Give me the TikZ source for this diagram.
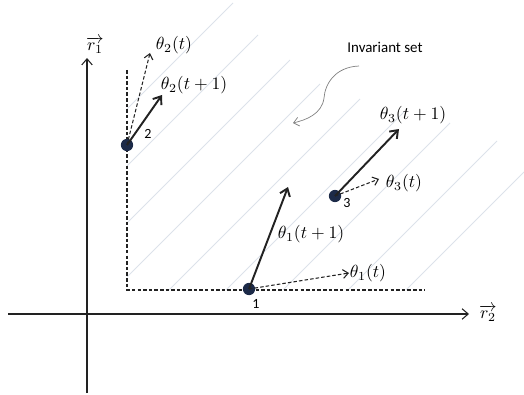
\documentclass[tikz,border=0pt]{standalone}
\usepackage{amsmath,amssymb}
\usepackage{fontspec}
\newfontfamily\labelfont{Carlito}
\usetikzlibrary{arrows.meta}
\definecolor{dotblue}{HTML}{1C2A48}
\definecolor{hatchgray}{HTML}{DCE2EA}
\definecolor{inkgray}{HTML}{222222}

\begin{document}
\begin{tikzpicture}[x=0.02cm, y=-0.02cm,
  agent/.style={circle, fill=dotblue, inner sep=0pt, minimum size=7pt},
  tag/.style={font=\labelfont\fontsize{8}{9}\selectfont},
  newdir/.style={draw=inkgray, line width=1.1pt, -{Straight Barb[length=4pt,width=6pt]}},
  olddir/.style={draw=inkgray, line width=0.6pt, dash pattern=on 2pt off 1.2pt, -{Straight Barb[length=3pt,width=5pt]}},
  axis/.style={draw=inkgray, line width=0.6pt, -{Straight Barb[length=3.5pt,width=6pt]}}]
\useasboundingbox (0,0) rectangle (524,395);

% hatching of the invariant set
\foreach \c/\xe in {236/233, 293/258, 350/290, 404/320, 459/360, 516/405, 573/450, 638/497, 696/524}{
  \pgfmathsetmacro{\xs}{max(127,\c-290)}
  \draw[hatchgray, line width=0.45pt] (\xs,\c-\xs) -- (\xe,\c-\xe);
}

% axes
\coordinate (Ytop) at (87,58);
\coordinate (Ybot) at (87,393);
\coordinate (Xleft) at (8,314);
\coordinate (Xright) at (469,314);
\draw[axis] (Ybot) -- (Ytop);
\draw[axis] (Xleft) -- (Xright);
\node[inner sep=0pt] (R1) at (95,45) {$\overrightarrow{r_1}$};
\node[inner sep=0pt] (R2) at (488,313) {$\overrightarrow{r_2}$};

% boundary
\coordinate (Btop) at (127,70);
\coordinate (Bcorner) at (127,290);
\coordinate (Bright) at (425,290);
\draw[inkgray, line width=0.6pt, dash pattern=on 2pt off 1.2pt] (Btop) -- (Bcorner) -- (Bright);

% agents
\node[agent] (P1) at (249,289) {};
\node[agent] (P2) at (127,145) {};
\node[agent] (P3) at (335,196) {};
\node[tag] (L1) at (256,304) {1};
\node[tag] (L2) at (148,134) {2};
\node[tag] (L3) at (347,203) {3};

\coordinate (T1old) at (349,273);
\coordinate (T1new) at (288,187);
\coordinate (T2old) at (150,53);
\coordinate (T2new) at (162,95);
\coordinate (T3old) at (379,179);
\coordinate (T3new) at (399,129);

\draw[olddir] (P1.center) -- (T1old);
\draw[newdir] (P1.center) -- (T1new);
\draw[olddir] (P2.center) -- (T2old);
\draw[newdir] (P2.center) -- (T2new);
\draw[olddir] (P3.center) -- (T3old);
\draw[newdir] (P3.center) -- (T3new);

\node (A1old) at (368,273) {$\theta_1(t)$};
\node (A1new) at (311,234) {$\theta_1(t+1)$};
\node (A2old) at (174,45) {$\theta_2(t)$};
\node (A2new) at (194,85) {$\theta_2(t+1)$};
\node (A3old) at (404,183) {$\theta_3(t)$};
\node (A3new) at (413,115) {$\theta_3(t+1)$};

% invariant set label
\node[font=\labelfont\fontsize{8.5}{10}\selectfont] (Inv) at (385,47) {Invariant set};
\coordinate (Cs) at (359,66);
\coordinate (Ce) at (293,123);
\draw[gray, line width=0.4pt, -{Straight Barb[length=3pt,width=5pt]}]
  (Cs) .. controls (335,67) and (325,84) .. (324,98)
       .. controls (322,114) and (306,120) .. (Ce);
\end{tikzpicture}
\end{document}
